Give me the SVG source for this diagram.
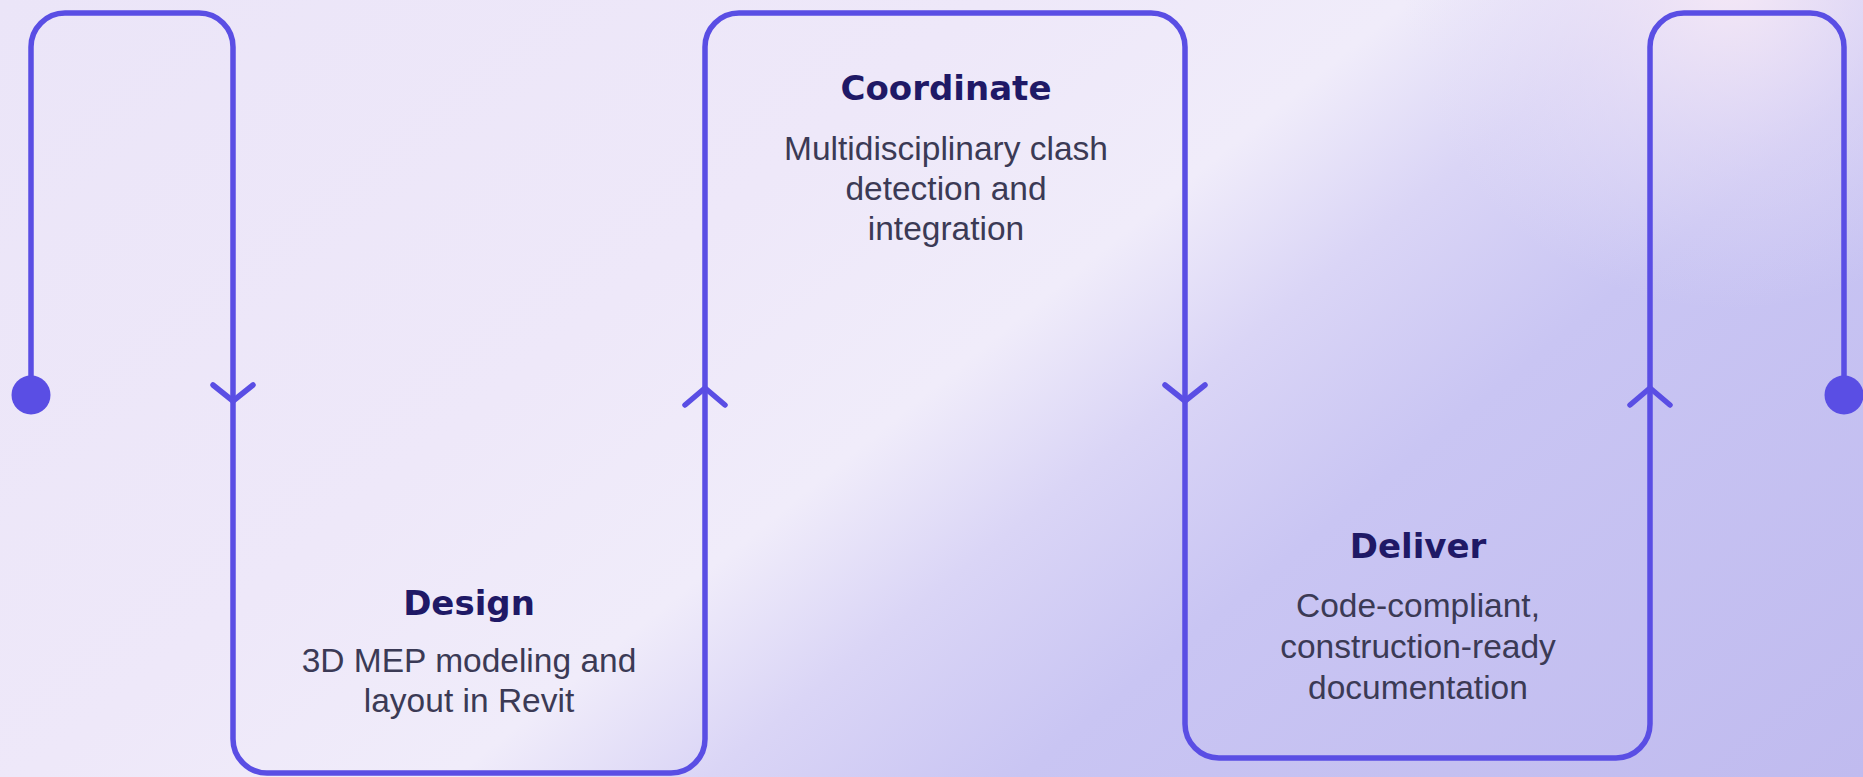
<svg xmlns="http://www.w3.org/2000/svg" width="1863" height="777" viewBox="0 0 1863 777">
<defs>
<linearGradient id="bg" gradientUnits="userSpaceOnUse" x1="0" y1="0" x2="1122" y2="1380">
<stop offset="0" stop-color="#ebe5f8"/>
<stop offset="0.35" stop-color="#eee8f9"/>
<stop offset="0.5" stop-color="#f0ecfa"/>
<stop offset="0.59" stop-color="#dad5f6"/>
<stop offset="0.7" stop-color="#c9c5f3"/>
<stop offset="1" stop-color="#c0bbef"/>
</linearGradient>
<radialGradient id="glow" gradientUnits="userSpaceOnUse" cx="1730" cy="-20" r="330">
<stop offset="0" stop-color="#f6e9f6" stop-opacity="0.95"/>
<stop offset="0.5" stop-color="#eee4f7" stop-opacity="0.45"/>
<stop offset="1" stop-color="#e8e2f8" stop-opacity="0"/>
</radialGradient>
</defs>
<style>
.line{fill:none;stroke:#5a4ee4;stroke-width:5.5;stroke-linecap:round;stroke-linejoin:round}
.dot{fill:#5a4ee4}
.title{font-family:"DejaVu Sans","Liberation Sans",sans-serif;font-weight:bold;font-size:34px;fill:#1f1966;text-anchor:middle}
.desc{font-family:"Liberation Sans",Arial,sans-serif;font-size:33.5px;fill:#3b3a55;text-anchor:middle}
</style>
<rect x="0" y="0" width="1863" height="777" fill="url(#bg)"/>
<rect x="0" y="0" width="1863" height="777" fill="url(#glow)"/>
<g id="connectors">
<path class="line" d="M31,395 V47 A34,34 0 0 1 65,13 H199 A34,34 0 0 1 233,47 V739 A34,34 0 0 0 267,773 H671 A34,34 0 0 0 705,739 V47 A34,34 0 0 1 739,13 H1151 A34,34 0 0 1 1185,47 V724 A34,34 0 0 0 1219,758 H1616 A34,34 0 0 0 1650,724 V47 A34,34 0 0 1 1684,13 H1810 A34,34 0 0 1 1844,47 V395"/>
<circle class="dot" cx="31" cy="395" r="19.5"/>
<circle class="dot" cx="1844" cy="395" r="19.5"/>
<path class="line" d="M213,385 L233,401 L253,385"/>
<path class="line" d="M685,405 L705,388 L725,405"/>
<path class="line" d="M1165,385 L1185,401 L1205,385"/>
<path class="line" d="M1630,405 L1650,388 L1670,405"/>
</g>
<g id="node-coordinate">
<text class="title" x="946" y="100">Coordinate</text>
<text class="desc" x="946" y="160">Multidisciplinary clash</text>
<text class="desc" x="946" y="200">detection and</text>
<text class="desc" x="946" y="240">integration</text>
</g>
<g id="node-design">
<text class="title" x="469" y="615">Design</text>
<text class="desc" x="469" y="672">3D MEP modeling and</text>
<text class="desc" x="469" y="712">layout in Revit</text>
</g>
<g id="node-deliver">
<text class="title" x="1418" y="558">Deliver</text>
<text class="desc" x="1418" y="617">Code-compliant,</text>
<text class="desc" x="1418" y="658">construction-ready</text>
<text class="desc" x="1418" y="699">documentation</text>
</g>
</svg>
